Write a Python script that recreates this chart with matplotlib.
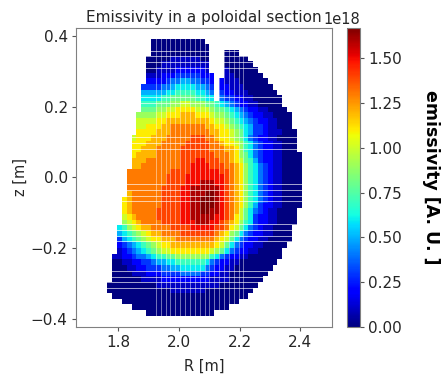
import numpy as np
import matplotlib
matplotlib.use("Agg")
import matplotlib.pyplot as plt

# emissivity per cell in units of 1e17, top row first, base 36 digits,
# '.' = no data, columns grouped by five
ROW_CODES = [
    "..... ....0 00000 00000 ..... ..... ..... .....",
    "..... ....0 00000 00000 0.... ..... ..... .....",
    "..... ....0 00000 00000 0...0 00... ..... .....",
    "..... ...00 00011 11110 0...0 0000. ..... .....",
    "..... ...00 01111 11111 1...0 00000 ..... .....",
    "..... ...00 11112 22222 1...1 00000 0.... .....",
    "..... ...11 12223 33332 22..1 10000 00... .....",
    "..... ...22 22344 55443 32.21 11000 000.. .....",
    "..... ..333 34456 66655 43.22 11100 0000. .....",
    "..... ..555 55667 77766 54.32 21110 00000 .....",
    "..... ..666 67788 88877 66.43 32211 00000 0....",
    "..... ..777 88899 aa999 88765 43221 10000 0....",
    "..... ..888 99aab bbbaa a9887 65432 21100 00...",
    "..... .9999 aabbb cccbb ba998 76543 22110 000..",
    "..... .aaaa bbccc ccccc cbaa9 87654 32211 000..",
    "..... .aabb bccdd ddddd ccbba 98765 33211 000..",
    "..... .bbbb cccdd ddddd dccbb a9865 33211 1000.",
    "..... abbbc ccddd ddeee ddcbb a9864 32211 0000.",
    "..... bbbcc cdddd deeee eddcb ba976 43221 1000.",
    "..... bbccc ddddd eeeee edddc cb976 43221 1000.",
    "..... bcccc ddddd eeeee eeddd cb986 43221 10000",
    "..... cccdd ddddd eeeff eeedd cba87 53221 10000",
    "..... ccddd ddddd eefff feeed dcb97 64321 10000",
    "....d ddddd dddee eefff fffee dcb97 64321 10000",
    "....d ddddd ddeee effff ffffe dcb97 64321 10000",
    "....d ddddd ddeee efffg ggffe dcb97 64321 10000",
    "....d ddddd deeee ffggg gggfe dcb97 64321 10000",
    "....c ddddd deeee ffggg hhgfe dcb97 64321 10000",
    "...bc ddddd deeee ffggh hhgfe dcb97 64321 10000",
    "...bc ddddd deeee ffggh hhgfe dcb97 53221 10000",
    "...bc ddddd eeeee ffggh hggfe dca86 43211 0000.",
    "...ab cdddd eeeee ffggg ggffe dba86 32211 0000.",
    "...9a bcddd deeee fffgg gffed cb976 32211 0000.",
    "..679 abccd dddee eefff ffeed ba864 32110 000..",
    "..567 89abc cdddd eeeee eedcb 98643 22110 000..",
    "..356 789ab bcccd ddddd ddcba 86432 21100 000..",
    "..234 56789 abbcc ccccc ccba8 64322 11000 00...",
    "..123 45678 9aabb bbbbb ba986 43221 10000 0....",
    ".1122 34456 77889 99999 97643 22110 00000 0....",
    ".0011 22334 55667 77777 64322 11000 00000 .....",
    ".0001 12233 34455 66666 43221 10000 0000. .....",
    ".0000 11122 23333 44443 32211 00000 000.. .....",
    ".0000 00111 12222 22222 21111 00000 00... .....",
    "00000 00000 11111 11111 11100 00000 0.... .....",
    "00000 00000 00011 11111 00000 00000 ..... .....",
    ".0000 00000 00000 00000 00000 0000. ..... .....",
    "...00 00000 00000 00000 00000 00... ..... .....",
    "..... 00000 00000 00000 00000 ..... ..... .....",
    "..... ...00 00000 00000 00... ..... ..... .....",
]

R_FIRST = 1.7727  # centre of the first column
Z_FIRST = 0.384   # centre of the top row
CELL = 0.016

X_TICKS = [1.8, 2.0, 2.2, 2.4]
Y_TICKS = [-0.4, -0.2, 0.0, 0.2, 0.4]
CBAR_TICKS = [0.0, 0.25e18, 0.5e18, 0.75e18, 1.0e18, 1.25e18, 1.5e18]
VMAX = 1.67e18

# gaps between markers, where the white shows through
GAP_Z = [0.357, 0.343, 0.326, 0.309, 0.227, 0.210, 0.113, 0.097, 0.080,
         -0.019, -0.036, -0.052, -0.068, -0.132, -0.149, -0.165, -0.181,
         -0.264, -0.281, -0.297, -0.312]
GAP_COLS = list(range(10, 29))

W, H = 441, 375
TXT = "#262626"


def grid():
    rows = []
    for code in ROW_CODES:
        code = code.replace(" ", "")
        rows.append([np.nan if ch == "." else int(ch, 36) * 1e17 for ch in code])
    return np.ma.masked_invalid(np.array(rows))


def main():
    e = grid()
    r_edges = R_FIRST - CELL / 2 + CELL * np.arange(e.shape[1] + 1)
    z_edges = Z_FIRST + CELL / 2 - CELL * np.arange(e.shape[0] + 1)

    fig = plt.figure(figsize=(W / 100, H / 100), dpi=100)
    ax = fig.add_axes([76 / W, 1 - 327 / H, 256 / W, 299 / H])
    mesh = ax.pcolormesh(r_edges, z_edges, e, cmap="jet", vmin=0, vmax=VMAX)
    ax.hlines(GAP_Z, 1.70, 2.45, color="white", lw=0.7, alpha=0.65)
    ax.vlines(r_edges[GAP_COLS], -0.41, 0.41, color="white", lw=0.7, alpha=0.45)
    ax.set_xlim(1.662, 2.504)
    ax.set_ylim(-0.4238, 0.4227)
    ax.set_xticks(X_TICKS)
    ax.set_yticks(Y_TICKS)
    ax.tick_params(labelsize=11, length=3, pad=3, color="#555555", labelcolor=TXT)
    ax.set_xlabel("R [m]", fontsize=10.5, labelpad=6, color=TXT)
    ax.set_ylabel("z [m]", fontsize=10.5, labelpad=2, color=TXT)
    ax.set_title("Emissivity in a poloidal section", fontsize=11, pad=4.5, color=TXT)
    for s in ax.spines.values():
        s.set_color("#808080")

    cax = fig.add_axes([347 / W, 1 - 327 / H, 13 / W, 299 / H])
    cb = fig.colorbar(mesh, cax=cax, ticks=CBAR_TICKS)
    cb.ax.tick_params(labelsize=11, length=3, pad=3, color="#555555", labelcolor=TXT)
    cb.ax.yaxis.get_offset_text().set_fontsize(10.5)
    cb.ax.yaxis.get_offset_text().set_color(TXT)
    cb.set_label("emissivity [A. U. ]", rotation=270, fontweight="bold",
                 fontsize=12.5, labelpad=27)
    cb.outline.set_edgecolor("#808080")

    fig.savefig("out.png", dpi=100)


if __name__ == "__main__":
    main()
